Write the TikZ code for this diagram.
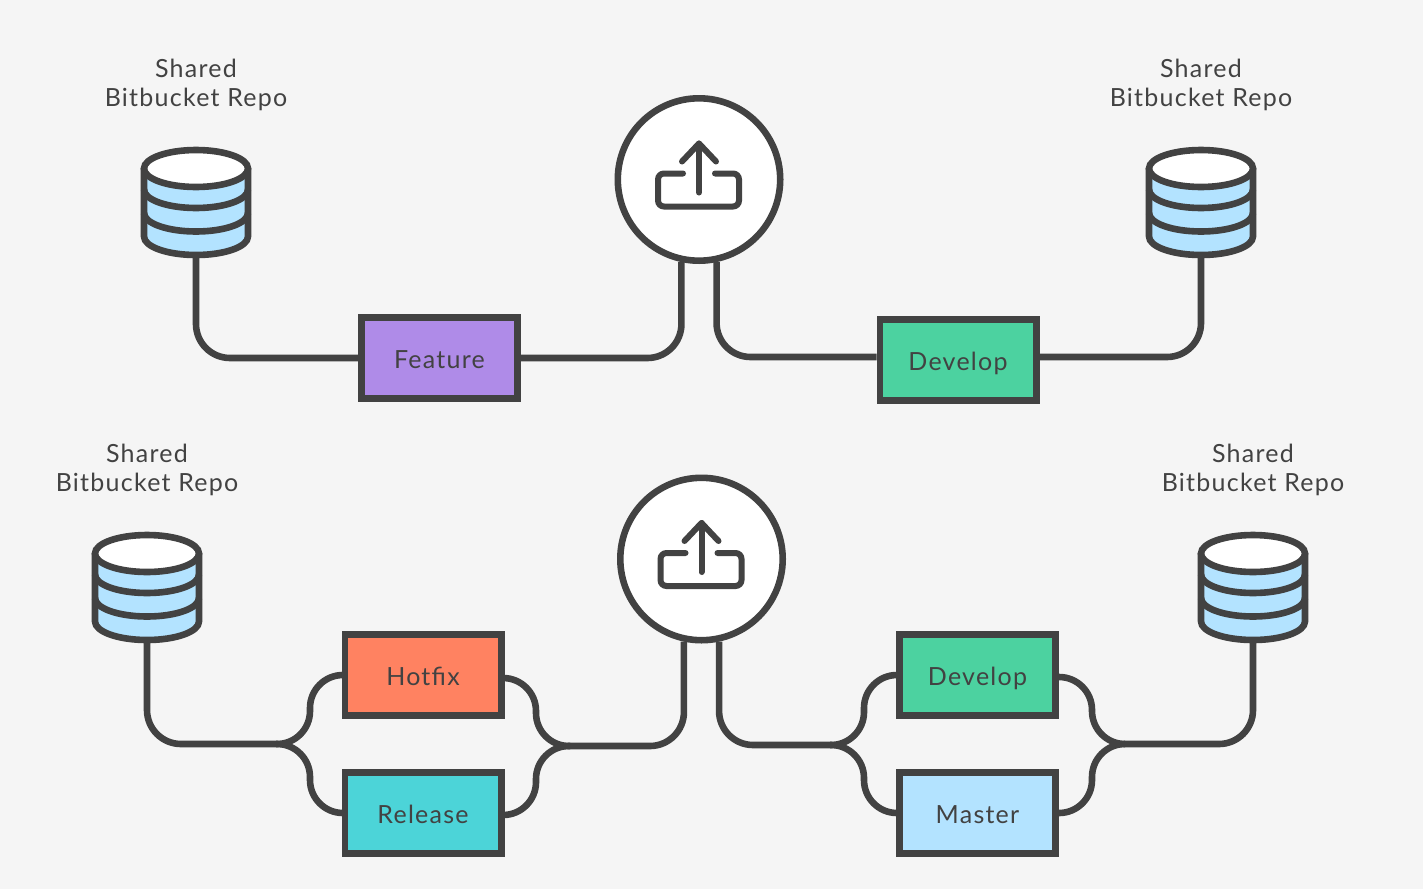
\documentclass[tikz,border=0pt]{standalone}
\usepackage{fontspec}
\setmainfont[LetterSpace=5]{Lato}
\definecolor{paper}{RGB}{245,245,245}
\definecolor{ink}{RGB}{66,66,66}
\definecolor{repoblue}{RGB}{179,227,255}
\definecolor{featurepurple}{RGB}{175,139,232}
\definecolor{developgreen}{RGB}{76,210,160}
\definecolor{hotfixorange}{RGB}{255,130,97}
\definecolor{releaseteal}{RGB}{76,212,216}

\begin{document}
\begin{tikzpicture}[x=1pt, y=-1pt,
		font=\fontsize{25}{29.5}\selectfont, text=ink,
		pipe/.style={draw=ink, line width=6.6pt, rounded corners=34pt},
		branch/.style={draw=ink, line width=6.6pt, rounded corners=33pt},
		box/.style={draw=ink, line width=6.6pt, minimum width=156.4pt, minimum height=81.4pt, inner sep=0pt, text height=20pt, text depth=0pt},
		upload/.style={circle, draw=ink, fill=white, line width=6.6pt, minimum size=162.4pt, inner sep=0pt},
		repolabel/.style={align=center, inner sep=0pt},
		repo/.pic={
			\filldraw[draw=ink, fill=repoblue, line width=6.6pt, line join=round] (-52,0) -- (-52,68) arc[start angle=180, end angle=0, x radius=52, y radius=18.5] -- (52,0) -- cycle;
			\foreach \h in {21,44.5} \draw[ink, line width=6.6pt] (-52,\h) arc[start angle=180, end angle=0, x radius=52, y radius=18.5];
			\filldraw[draw=ink, fill=white, line width=6.6pt] (0,0) ellipse[x radius=52, y radius=18.5];
			\coordinate (-foot) at (0,89);
		},
		tray/.pic={
			\draw[ink, line width=6pt, line cap=round, rounded corners=6pt] (-16,-6) -- (-41,-6) -- (-41,27) -- (40,27) -- (40,-6) -- (16,-6);
			\draw[ink, line width=6pt, line cap=round, line join=round] (0,13) -- (0,-36);
			\draw[ink, line width=6pt, line cap=round, line join=round] (-17,-18) -- (0,-36) -- (17,-18);
		}]
		% Hintergrund
		\fill[paper] (0,0) rectangle (1423,889);
		% Repos mit Beschriftung
		\foreach \name/\x/\y in {A/196/168.5, B/1201/168.5, C/147/553.5, D/1253/553.5} {
			\pic (repo\name) at (\x,\y) {repo};
			\node[repolabel] (label\name) at (\x,\y-83.5) {Shared\\Bitbucket Repo};
		}
		% Kreise
		\foreach \name/\x/\y in {T/699/179.5, B/701.5/559} {
			\node[upload] (upload\name) at (\x,\y) {};
			\pic at (\x,\y) {tray};
		}
		% Branches oben
		\node[box, fill=featurepurple] (feature) at (439.5,358) {Feature};
		\node[box, fill=developgreen] (developT) at (958,360) {Develop};
		% Branches unten
		\node[box, fill=hotfixorange] (hotfix) at (423,675) {Hotfix};
		\node[box, fill=releaseteal] (release) at (423,813) {Release};
		\node[box, fill=developgreen] (developB) at (977.5,675) {Develop};
		\node[box, fill=repoblue] (master) at (977.5,813) {Master};
		% Leitungen oben
		\draw[pipe] (repoA-foot) |- (feature.west);
		\draw[pipe] (feature.east) -| (uploadT.258);
		\draw[pipe] (uploadT.282) |- ([yshift=3pt]developT.west);
		\draw[pipe] ([yshift=3pt]developT.east) -| (repoB-foot);
		% Knoten der Verzweigungen
		\coordinate (joinA) at (276,744);
		\coordinate (joinB) at (570,746);
		\coordinate (joinC) at (830,745);
		\coordinate (joinD) at (1125,744);
		\coordinate (busA) at (310,744);
		\coordinate (busB) at (536,746);
		\coordinate (busC) at (864,745);
		\coordinate (busD) at (1092,744);
		% Leitungen unten links
		\draw[pipe] (repoC-foot) |- (joinA);
		\draw[branch] (joinA) -| (busA |- hotfix.west) -- (hotfix.west);
		\draw[branch] (joinA) -| (busA |- release.west) -- (release.west);
		\draw[branch] ([yshift=-3pt]hotfix.east) -| (busB) -- (joinB);
		\draw[branch] ([yshift=-2pt]release.east) -| (busB) -- (joinB);
		\draw[pipe] (joinB) -| (uploadB.258);
		% Leitungen unten rechts
		\draw[pipe] (uploadB.282) |- (joinC);
		\draw[branch] (joinC) -| (busC |- developB.west) -- (developB.west);
		\draw[branch] (joinC) -| (busC |- master.west) -- (master.west);
		\draw[branch] ([yshift=-2pt]developB.east) -| (busD) -- (joinD);
		\draw[branch] (master.east) -| (busD) -- (joinD);
		\draw[pipe] (joinD) -| (repoD-foot);
	\end{tikzpicture}
\end{document}
